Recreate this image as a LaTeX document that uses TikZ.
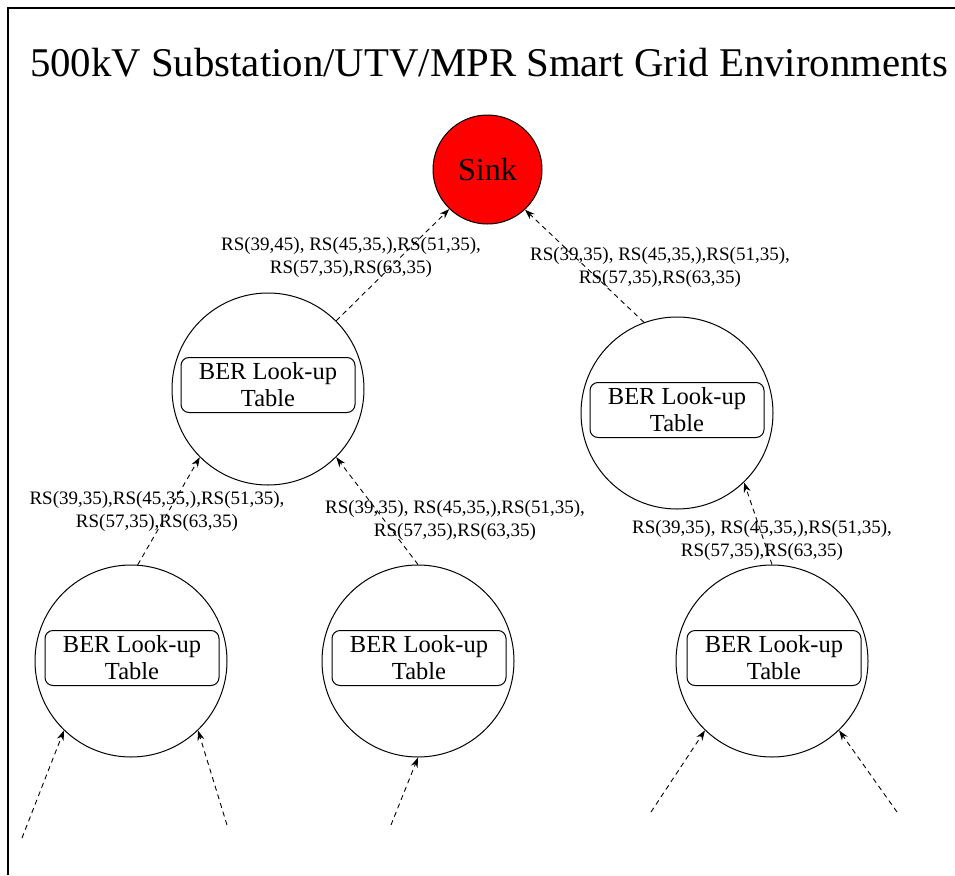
\documentclass[tikz,border=0pt]{standalone}
\usepackage{fontspec}
\setmainfont{Liberation Serif}
\usetikzlibrary{arrows.meta}
\begin{document}
\begin{tikzpicture}[x=1pt,y=-1pt,
 circ/.style={circle,draw=black,line width=1pt,minimum size=192pt,inner sep=0pt},
 sinkc/.style={circle,draw=black,fill=red,line width=1pt,minimum size=109pt,inner sep=0pt,font=\fontsize{32}{38}\selectfont},
 tbl/.style={draw=black,rounded corners=8pt,line width=1pt,minimum width=174pt,minimum height=55pt,align=center,inner sep=0pt,font=\fontsize{24.5}{27}\selectfont},
 lbl/.style={align=center,inner sep=0pt,font=\fontsize{19}{23}\selectfont},
 link/.style={dash pattern=on 5pt off 4pt,line width=0.9pt,-{Stealth[length=10pt,width=7pt]}}
]
\useasboundingbox (0,0) rectangle (955,875);
\draw[line width=1.2pt] (8,875) -- (8,8) -- (955,8);
\node[anchor=base] (title) at (489,76) {\fontsize{40.8}{48}\selectfont 500kV Substation/UTV/MPR Smart Grid Environments};

\node[sinkc] (sink) at (487.5,169.5) {Sink};
\node[circ] (ml) at (268,389) {};
\node[circ] (mr) at (677,413) {};
\node[circ] (bl) at (131,661) {};
\node[circ] (bm) at (418,661) {};
\node[circ] (br) at (772,661) {};

\node[tbl] (mlt) at (268,385) {BER Look-up\\Table};
\node[tbl] (mrt) at (677,410) {BER Look-up\\Table};
\node[tbl] (blt) at (132,658) {BER Look-up\\Table};
\node[tbl] (bmt) at (419,658) {BER Look-up\\Table};
\node[tbl] (brt) at (774,658) {BER Look-up\\Table};

\node[lbl] (l1) at (351,257) {RS(39,45), RS(45,35,),RS(51,35),\\RS(57,35),RS(63,35)};
\node[lbl] (l2) at (660,267) {RS(39,35), RS(45,35,),RS(51,35),\\RS(57,35),RS(63,35)};
\node[lbl] (l3) at (157,511) {RS(39,35),RS(45,35,),RS(51,35),\\RS(57,35),RS(63,35)};
\node[lbl] (l4) at (455,520) {RS(39,35), RS(45,35,),RS(51,35),\\RS(57,35),RS(63,35)};
\node[lbl] (l5) at (762,540) {RS(39,35), RS(45,35,),RS(51,35),\\RS(57,35),RS(63,35)};

\draw[link] (ml.45) -- (sink.-134);
\draw[link] (mr.110) -- (sink.-47);
\draw[link] (bl.86) -- (ml.-135);
\draw[link] (bm.90) -- (ml.-45);
\draw[link] (br.90) -- (mr.-46);

\coordinate (e1) at (22,838);
\coordinate (e2) at (227,825);
\coordinate (e3) at (391,825);
\coordinate (e4) at (651,812);
\coordinate (e5) at (897,812);
\draw[link] (e1) -- (bl.-134);
\draw[link] (e2) -- (bl.-46);
\draw[link] (e3) -- (bm.-90);
\draw[link] (e4) -- (br.-134);
\draw[link] (e5) -- (br.-46);
\end{tikzpicture}
\end{document}
